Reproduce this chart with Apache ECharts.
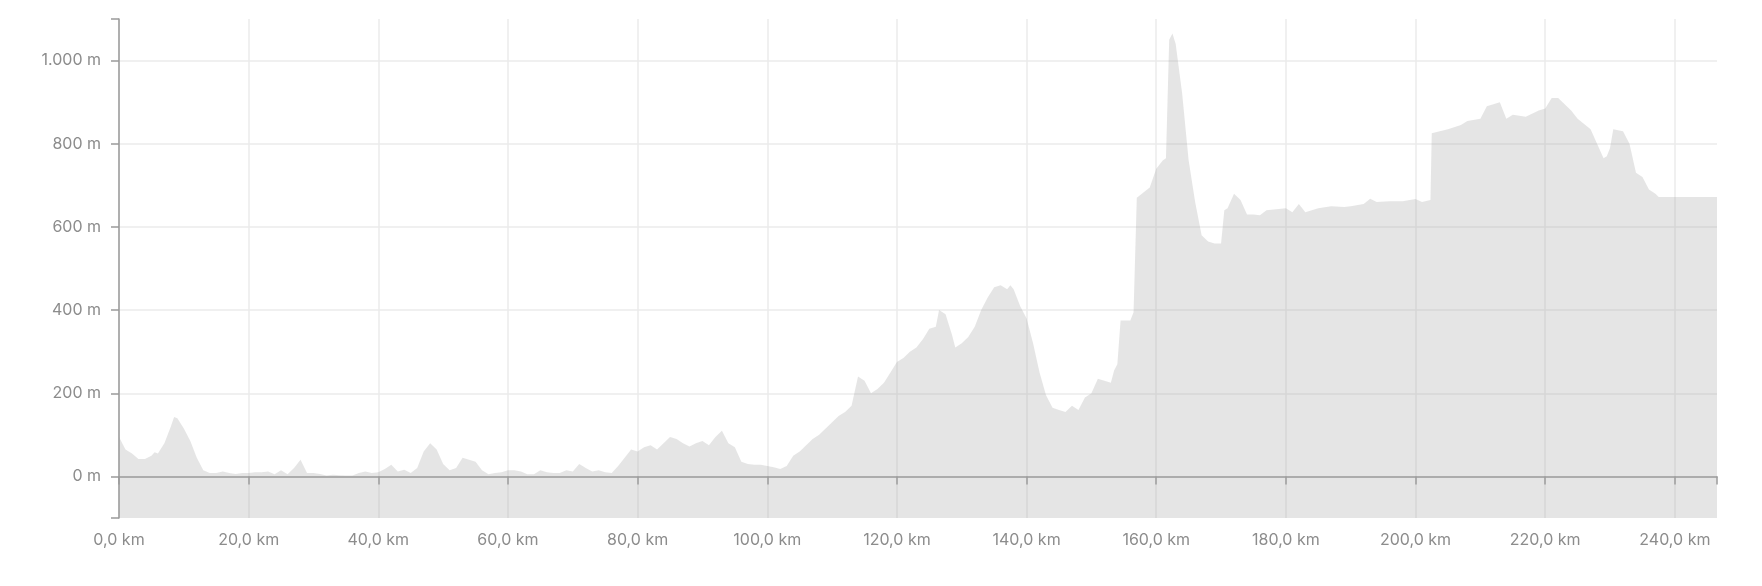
<!DOCTYPE html>
<html>
<head>
<meta charset="utf-8">
<script src="https://cdn.jsdelivr.net/npm/echarts@6/dist/echarts.min.js"></script>
<style>
    html, body { margin: 0; padding: 0; background: #fff; }
    #elevationChart { width: 1762px; height: 586px; }
</style>
</head>
<body>
<div id="elevationChart"></div>
<script>
// Distanz (km) und Höhe (m)
var distances = [0, 1, 2, 3, 4, 5, 5.5, 6, 7, 8, 8.5, 9, 10, 11, 12, 13, 14, 15, 16, 17, 18, 19, 20, 21, 22, 23, 24, 25, 26, 27, 28, 29, 30, 31, 32, 33, 34, 35, 36, 37, 38, 39, 40, 41, 42, 43, 44, 45, 46, 47, 48, 49, 50, 51, 52, 53, 54, 55, 56, 57, 58, 59, 60, 61, 62, 63, 64, 65, 66, 67, 68, 69, 70, 71, 72, 73, 74, 75, 76, 77, 78, 79, 80, 81, 82, 83, 84, 85, 86, 87, 88, 89, 90, 91, 92, 93, 94, 95, 96, 97, 98, 99, 100, 101, 102, 103, 104, 105, 106, 107, 108, 109, 110, 111, 112, 113, 114, 115, 116, 117, 118, 119, 120, 121, 122, 123, 124, 125, 126, 126.5, 127.5, 128.5, 129, 130, 131, 132, 133, 134, 135, 136, 137, 137.5, 138, 139, 140, 141, 142, 143, 144, 145, 146, 147, 148, 149, 150, 151, 152, 153, 153.5, 154, 154.5, 156, 156.5, 157, 159, 160, 161, 161.5, 162, 162.5, 163, 164, 165, 166, 167, 168, 169, 170, 170.5, 171, 172, 173, 174, 175, 176, 177, 180, 181, 182, 183, 185, 187, 189, 190, 192, 193, 194, 196, 198, 200, 201, 202.3, 202.5, 205, 207, 208, 210, 211, 213, 214, 215, 217, 219, 220, 221, 222, 224, 225, 227, 228, 229, 229.5, 230, 230.5, 232, 233, 234, 235, 236, 237, 237.5, 246.5];
var elevations = [95, 65, 55, 42, 42, 50, 58, 55, 80, 120, 143, 140, 115, 85, 45, 15, 8, 8, 12, 8, 6, 8, 8, 10, 10, 12, 5, 15, 5, 20, 40, 8, 8, 6, 2, 4, 3, 2, 2, 8, 12, 8, 10, 18, 28, 12, 16, 8, 20, 60, 80, 65, 30, 15, 20, 45, 40, 35, 15, 5, 8, 10, 15, 15, 12, 5, 5, 15, 10, 8, 8, 15, 12, 30, 20, 12, 15, 10, 8, 25, 45, 65, 60, 70, 75, 65, 80, 95, 90, 80, 72, 80, 85, 75, 95, 110, 80, 70, 35, 30, 28, 28, 25, 22, 18, 25, 50, 60, 75, 90, 100, 115, 130, 145, 155, 170, 240, 230, 200, 210, 225, 250, 275, 285, 300, 310, 330, 355, 360, 400, 390, 340, 310, 320, 335, 360, 400, 430, 455, 460, 450, 460, 450, 410, 380, 320, 250, 195, 165, 160, 155, 170, 160, 190, 200, 235, 230, 225, 255, 270, 375, 375, 395, 670, 695, 740, 760, 765, 1050, 1065, 1040, 920, 760, 660, 580, 565, 560, 560, 640, 645, 680, 665, 630, 630, 628, 640, 645, 635, 655, 635, 645, 650, 648, 650, 655, 668, 660, 662, 662, 667, 660, 665, 825, 835, 845, 855, 860, 890, 900, 860, 870, 865, 880, 885, 910, 910, 880, 860, 835, 800, 765, 770, 790, 835, 830, 800, 730, 720, 690, 680, 672, 672];
var distanceTickStep = 20;
var elevationTickStep = 200;

var profileData = distances.map(function (d, i) {
    return [d, elevations[i]];
});

/**
 * Höhenprofil-Diagramm
 */
function elevationChart() {
    var myChart = echarts.init(document.getElementById('elevationChart'));
    var labelStyle = {
        color: '#8c8c8c',
        fontSize: 16,
        fontFamily: 'Inter'
    };
    var option = {
        animation: false,
        grid: {
            left: 119,
            right: 45,
            top: 19,
            bottom: 68
        },
        xAxis: {
            type: 'value',
            min: 0,
            max: 246.5,
            interval: distanceTickStep,
            axisLine: {lineStyle: {color: '#9a9a9a', width: 1.5}},
            axisTick: {show: true, length: 8, lineStyle: {color: '#9a9a9a', width: 1.5}},
            axisLabel: Object.assign({
                margin: 14,
                formatter: function (v) {
                    if (Math.abs(v % distanceTickStep) > 1e-6) return '';
                    return v.toFixed(1).replace('.', ',') + ' km';
                }
            }, labelStyle),
            splitLine: {show: true, showMaxLine: false, lineStyle: {color: '#ebebeb', width: 1.5}}
        },
        yAxis: {
            type: 'value',
            min: -100,
            max: 1100,
            splitNumber: 6,
            axisLine: {show: true, lineStyle: {color: '#9a9a9a', width: 1.5}},
            axisTick: {show: true, length: 8, lineStyle: {color: '#9a9a9a', width: 1.5}},
            axisLabel: Object.assign({
                margin: 18,
                formatter: function (v) {
                    if (Math.abs(v % elevationTickStep) > 1e-6) return '';
                    return v.toString().replace(/\B(?=(\d{3})+(?!\d))/g, '.') + ' m';
                }
            }, labelStyle),
            splitLine: {show: true, showMinLine: false, showMaxLine: false, lineStyle: {color: '#ebebeb', width: 1.5}}
        },
        series: [
            {
                type: 'line',
                data: profileData,
                showSymbol: false,
                smooth: false,
                lineStyle: {width: 0},
                areaStyle: {color: 'rgba(160, 160, 160, 0.4)', origin: 'start'},
                z: 3
            }
        ]
    };
    myChart.setOption(option, true);
}

elevationChart();
</script>
</body>
</html>
